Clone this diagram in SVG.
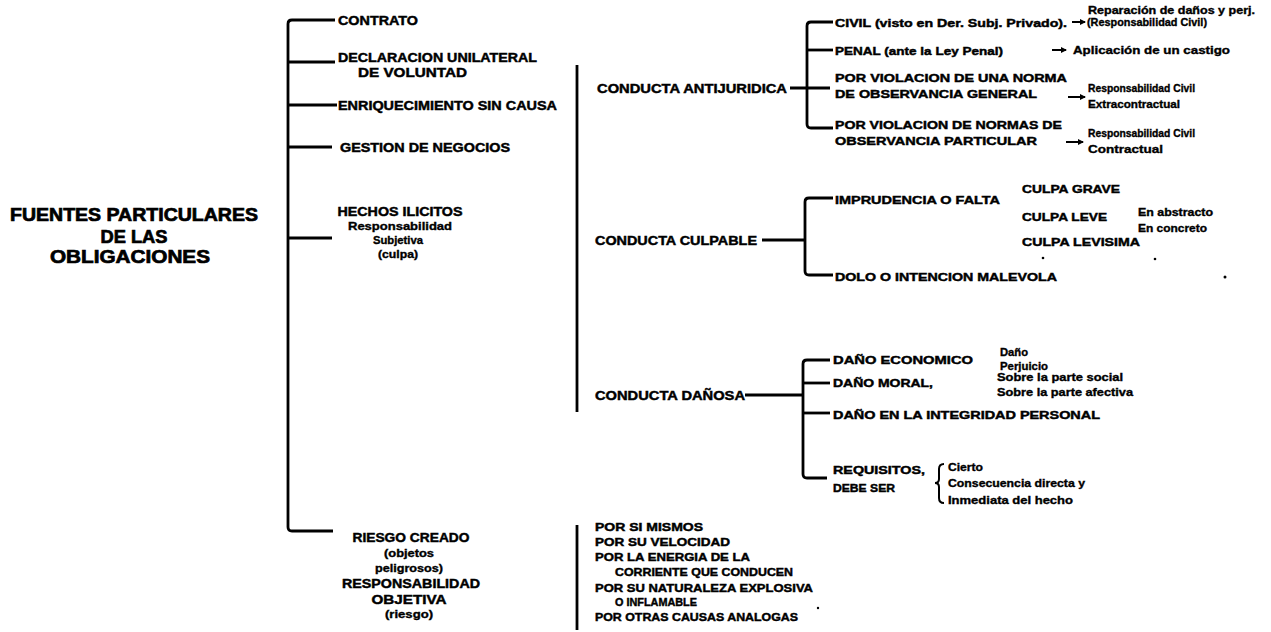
<svg xmlns="http://www.w3.org/2000/svg" width="1271" height="632" viewBox="0 0 1271 632">
<style>
text{font-family:"Liberation Sans",Arial,sans-serif;font-weight:bold;fill:#000;stroke:#000;stroke-width:0.45;}
.t{font-size:18px;stroke-width:0.7;}
.c{font-size:12.5px;}
.s{font-size:10.5px;stroke-width:0.35;}
.l{font-size:11.5px;}
.k{stroke:#000;stroke-width:2.8;fill:none;}
.a{stroke:#000;stroke-width:2;fill:none;}
</style>
<defs>
<marker id="ah" markerWidth="6" markerHeight="6" refX="5" refY="3" orient="auto" markerUnits="userSpaceOnUse">
<path d="M0,0 L6,3 L0,6 Z" fill="#000"/>
</marker>
</defs>
<rect width="1271" height="632" fill="#fff"/>

<g id="connectors">
<path class="k" d="M335 20 H292 Q288 20 288 24 V527 Q288 531 292 531 H333"/>
<path class="k" d="M288 62 H335"/>
<path class="k" d="M288 105 H337"/>
<path class="k" d="M288 147 H332"/>
<path class="k" d="M288 238 H332"/>
<path class="k" d="M577 65 V412" stroke-width="3.2"/>
<path class="k" d="M577 525 V630" stroke-width="3"/>
<path class="k" d="M790 88 H830"/>
<path class="k" d="M833 22 H811 Q807 22 807 26 V124 Q807 128 811 128 H833"/>
<path class="k" d="M807 50 H833"/>
<path class="k" d="M762 240 H805"/>
<path class="k" d="M833 198 H809 Q805 198 805 202 V271 Q805 275 809 275 H833"/>
<path class="k" d="M745 395 H803"/>
<path class="k" d="M830 360 H807 Q803 360 803 364 V474 Q803 478 807 478 H827"/>
<path class="k" d="M803 383 H830"/>
<path class="k" d="M803 413 H830"/>
<path class="a" d="M1072 22 H1085" marker-end="url(#ah)"/>
<path class="a" d="M1052 50 H1066" marker-end="url(#ah)"/>
<path class="a" d="M1068 97 H1085" marker-end="url(#ah)"/>
<path class="a" d="M1066 142 H1083" marker-end="url(#ah)"/>
<path class="a" d="M944 464 Q939 464 939 469 V479 Q939 483 935 483 Q939 483 939 487 V498 Q939 503 944 503" stroke-width="1.8"/>
</g>

<g id="title">
<text class="t" x="134" y="221" text-anchor="middle" textLength="248" lengthAdjust="spacingAndGlyphs">FUENTES PARTICULARES</text>
<text class="t" x="134" y="243" text-anchor="middle" textLength="67" lengthAdjust="spacingAndGlyphs">DE LAS</text>
<text class="t" x="130" y="263" text-anchor="middle" textLength="160" lengthAdjust="spacingAndGlyphs">OBLIGACIONES</text>
</g>

<g id="contrato"><text class="c" x="338" y="25" textLength="80" lengthAdjust="spacingAndGlyphs">CONTRATO</text></g>
<g id="declaracion">
<text class="c" x="338" y="62" textLength="199" lengthAdjust="spacingAndGlyphs">DECLARACION UNILATERAL</text>
<text class="c" x="358" y="77" textLength="109" lengthAdjust="spacingAndGlyphs">DE VOLUNTAD</text>
</g>
<g id="enriquecimiento"><text class="c" x="338" y="110" textLength="219" lengthAdjust="spacingAndGlyphs">ENRIQUECIMIENTO SIN CAUSA</text></g>
<g id="gestion"><text class="c" x="340" y="152" textLength="170" lengthAdjust="spacingAndGlyphs">GESTION DE NEGOCIOS</text></g>
<g id="hechos">
<text class="c" x="400" y="216" text-anchor="middle" textLength="125" lengthAdjust="spacingAndGlyphs">HECHOS ILICITOS</text>
<text class="s" x="400" y="230" text-anchor="middle" textLength="104" lengthAdjust="spacingAndGlyphs">Responsabilidad</text>
<text class="s" x="398" y="244" text-anchor="middle" textLength="50" lengthAdjust="spacingAndGlyphs">Subjetiva</text>
<text class="s" x="398" y="258" text-anchor="middle" textLength="40" lengthAdjust="spacingAndGlyphs">(culpa)</text>
</g>
<g id="riesgo">
<text class="c" x="411" y="542" text-anchor="middle" textLength="117" lengthAdjust="spacingAndGlyphs">RIESGO CREADO</text>
<text class="s" x="409" y="557" text-anchor="middle" textLength="50" lengthAdjust="spacingAndGlyphs">(objetos</text>
<text class="s" x="409" y="572" text-anchor="middle" textLength="68" lengthAdjust="spacingAndGlyphs">peligrosos)</text>
<text class="c" x="411" y="588" text-anchor="middle" textLength="138" lengthAdjust="spacingAndGlyphs">RESPONSABILIDAD</text>
<text class="c" x="409" y="604" text-anchor="middle" textLength="75" lengthAdjust="spacingAndGlyphs">OBJETIVA</text>
<text class="s" x="409" y="618" text-anchor="middle" textLength="48" lengthAdjust="spacingAndGlyphs">(riesgo)</text>
</g>

<g id="antijuridica"><text class="c" x="597" y="93" textLength="190" lengthAdjust="spacingAndGlyphs">CONDUCTA ANTIJURIDICA</text></g>
<g id="culpable"><text class="c" x="595" y="245" textLength="162" lengthAdjust="spacingAndGlyphs">CONDUCTA CULPABLE</text></g>
<g id="danosa"><text class="c" x="595" y="400" textLength="150" lengthAdjust="spacingAndGlyphs">CONDUCTA DAÑOSA</text></g>

<g id="objetos">
<text class="l" x="595" y="531" textLength="108" lengthAdjust="spacingAndGlyphs">POR SI MISMOS</text>
<text class="l" x="595" y="546" textLength="135" lengthAdjust="spacingAndGlyphs">POR SU VELOCIDAD</text>
<text class="l" x="595" y="561" textLength="155" lengthAdjust="spacingAndGlyphs">POR LA ENERGIA DE LA</text>
<text class="l" x="615" y="576" textLength="178" lengthAdjust="spacingAndGlyphs">CORRIENTE QUE CONDUCEN</text>
<text class="l" x="595" y="592" textLength="218" lengthAdjust="spacingAndGlyphs">POR SU NATURALEZA EXPLOSIVA</text>
<text class="l" x="615" y="606" textLength="82" lengthAdjust="spacingAndGlyphs">O INFLAMABLE</text>
<text class="l" x="595" y="621" textLength="203" lengthAdjust="spacingAndGlyphs">POR OTRAS CAUSAS ANALOGAS</text>
</g>

<g id="civil">
<text class="l" x="835" y="27" textLength="232" lengthAdjust="spacingAndGlyphs">CIVIL (visto en Der. Subj. Privado).</text>
<text class="s" x="1088" y="14" textLength="167" lengthAdjust="spacingAndGlyphs">Reparación de daños y perj.</text>
<text class="s" x="1087" y="26" textLength="120" lengthAdjust="spacingAndGlyphs">(Responsabilidad Civil)</text>
</g>
<g id="penal">
<text class="l" x="835" y="55" textLength="168" lengthAdjust="spacingAndGlyphs">PENAL (ante la Ley Penal)</text>
<text class="s" x="1073" y="54" textLength="157" lengthAdjust="spacingAndGlyphs">Aplicación de un castigo</text>
</g>
<g id="general">
<text class="l" x="835" y="82" textLength="232" lengthAdjust="spacingAndGlyphs">POR VIOLACION DE UNA NORMA</text>
<text class="l" x="835" y="98" textLength="202" lengthAdjust="spacingAndGlyphs">DE OBSERVANCIA GENERAL</text>
<text class="s" x="1088" y="92" textLength="107" lengthAdjust="spacingAndGlyphs">Responsabilidad Civil</text>
<text class="s" x="1088" y="108" textLength="92" lengthAdjust="spacingAndGlyphs">Extracontractual</text>
</g>
<g id="particular">
<text class="l" x="835" y="129" textLength="227" lengthAdjust="spacingAndGlyphs">POR VIOLACION DE NORMAS DE</text>
<text class="l" x="835" y="145" textLength="202" lengthAdjust="spacingAndGlyphs">OBSERVANCIA PARTICULAR</text>
<text class="s" x="1088" y="137" textLength="107" lengthAdjust="spacingAndGlyphs">Responsabilidad Civil</text>
<text class="s" x="1088" y="153" textLength="75" lengthAdjust="spacingAndGlyphs">Contractual</text>
</g>

<g id="imprudencia">
<text class="l" x="835" y="204" textLength="165" lengthAdjust="spacingAndGlyphs">IMPRUDENCIA O FALTA</text>
<text class="l" x="1022" y="193" textLength="98" lengthAdjust="spacingAndGlyphs">CULPA GRAVE</text>
<text class="l" x="1022" y="221" textLength="85" lengthAdjust="spacingAndGlyphs">CULPA LEVE</text>
<text class="l" x="1022" y="246" textLength="118" lengthAdjust="spacingAndGlyphs">CULPA LEVISIMA</text>
<text class="s" x="1138" y="216" textLength="75" lengthAdjust="spacingAndGlyphs">En abstracto</text>
<text class="s" x="1138" y="232" textLength="69" lengthAdjust="spacingAndGlyphs">En concreto</text>
</g>
<g id="dolo"><text class="l" x="835" y="281" textLength="222" lengthAdjust="spacingAndGlyphs">DOLO O INTENCION MALEVOLA</text></g>

<g id="economico">
<text class="l" x="833" y="364" textLength="140" lengthAdjust="spacingAndGlyphs">DAÑO ECONOMICO</text>
<text class="s" x="1000" y="356" textLength="28" lengthAdjust="spacingAndGlyphs">Daño</text>
<text class="s" x="1000" y="370" textLength="48" lengthAdjust="spacingAndGlyphs">Perjuicio</text>
</g>
<g id="moral">
<text class="l" x="833" y="387" textLength="100" lengthAdjust="spacingAndGlyphs">DAÑO MORAL,</text>
<text class="s" x="997" y="381" textLength="126" lengthAdjust="spacingAndGlyphs">Sobre la parte social</text>
<text class="s" x="997" y="396" textLength="136" lengthAdjust="spacingAndGlyphs">Sobre la parte afectiva</text>
</g>
<g id="integridad"><text class="l" x="833" y="419" textLength="267" lengthAdjust="spacingAndGlyphs">DAÑO EN LA INTEGRIDAD PERSONAL</text></g>
<g id="requisitos">
<text class="l" x="833" y="474" textLength="92" lengthAdjust="spacingAndGlyphs">REQUISITOS,</text>
<text class="l" x="833" y="492" textLength="62" lengthAdjust="spacingAndGlyphs">DEBE SER</text>
<text class="s" x="948" y="471" textLength="35" lengthAdjust="spacingAndGlyphs">Cierto</text>
<text class="s" x="948" y="487" textLength="137" lengthAdjust="spacingAndGlyphs">Consecuencia directa y</text>
<text class="s" x="948" y="504" textLength="125" lengthAdjust="spacingAndGlyphs">Inmediata del hecho</text>
</g>

<g id="specks" fill="#000">
<circle cx="1043" cy="258" r="1.3"/>
<circle cx="1155" cy="259" r="1.3"/>
<circle cx="1225" cy="277" r="1.5"/>
<circle cx="818" cy="608" r="1.2"/>
</g>
</svg>
